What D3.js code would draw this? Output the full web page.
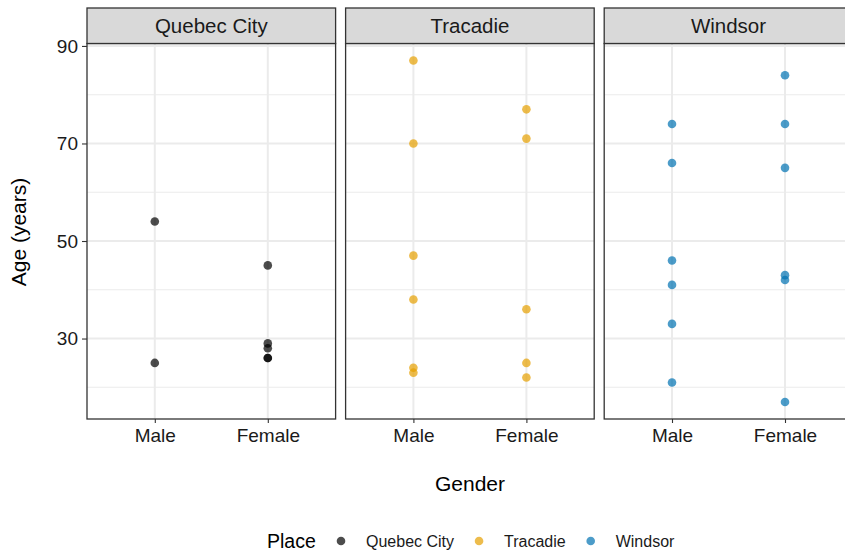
<!DOCTYPE html>
<html>
<head>
<meta charset="utf-8">
<script src="https://cdn.jsdelivr.net/npm/d3@7"></script>
<style>
  body { margin: 0; background: #fff; }
  svg { font-family: "Liberation Sans", Arial, Helvetica, sans-serif; }
  .grid line { stroke: #ebebeb; }
</style>
</head>
<body>
<script>
var width = 845,
    height = 550;

// data
var places = ['Quebec City', 'Tracadie', 'Windsor'];
var genders = ['Male', 'Female'];
var colors = ['#000000', '#E69F00', '#0072B2'];

var quebecMale = [54, 25];
var quebecFemale = [45, 29, 28, 26, 26];
var tracadieMale = [87, 70, 47, 38, 24, 23];
var tracadieFemale = [77, 71, 36, 25, 22];
var windsorMale = [74, 66, 46, 41, 33, 21];
var windsorFemale = [84, 74, 65, 43, 42, 17];

var yTicks = [30, 50, 70, 90];
var yMinor = [20, 40, 60, 80];

var ages = {
    'Quebec City': { Male: quebecMale, Female: quebecFemale },
    'Tracadie': { Male: tracadieMale, Female: tracadieFemale },
    'Windsor': { Male: windsorMale, Female: windsorFemale }
};

var rows = [];
places.forEach(function(p) {
    genders.forEach(function(g) {
        ages[p][g].forEach(function(a) { rows.push({ place: p, gender: g, age: a }); });
    });
});

var svg = d3.select('body').append('svg')
    .attr('width', width)
    .attr('height', height);

var panelW = 248.6, gap = 10, left = 87,
    stripTop = 8, panelTop = 43.5, panelBottom = 419;

var all = rows.map(d => d.age);
var ext = d3.extent(all), pad = (ext[1] - ext[0]) * 0.05;
var y = d3.scaleLinear()
    .domain([ext[0] - pad, ext[1] + pad])
    .range([panelBottom, panelTop]);

// discrete x with 0.6 expansion like ggplot
var x = d3.scalePoint()
    .domain(genders)
    .range([panelW * 0.6 / 2.2, panelW * 1.6 / 2.2]);

var color = d3.scaleOrdinal().domain(places).range(colors);

var panels = svg.selectAll('.panel')
    .data(places).enter()
    .append('g')
    .attr('class', 'panel')
    .attr('transform', (d, i) => 'translate(' + (left + i * (panelW + gap)) + ',0)');

var grid = panels.append('g').attr('class', 'grid');
grid.selectAll('.minor')
    .data(yMinor).enter()
    .append('line')
    .attr('x1', 0).attr('x2', panelW)
    .attr('y1', d => y(d)).attr('y2', d => y(d))
    .attr('stroke-width', 1.1);
grid.selectAll('.major')
    .data(yTicks).enter()
    .append('line')
    .attr('x1', 0).attr('x2', panelW)
    .attr('y1', d => y(d)).attr('y2', d => y(d))
    .attr('stroke-width', 2);
grid.selectAll('.vx')
    .data(genders).enter()
    .append('line')
    .attr('x1', d => x(d)).attr('x2', d => x(d))
    .attr('y1', panelTop).attr('y2', panelBottom)
    .attr('stroke-width', 2);

panels.selectAll('circle')
    .data(p => rows.filter(r => r.place === p)).enter()
    .append('circle')
    .attr('cx', d => x(d.gender))
    .attr('cy', d => y(d.age))
    .attr('r', 4.3)
    .attr('fill', d => color(d.place))
    .attr('fill-opacity', 0.7);

// panel border
panels.append('rect')
    .attr('x', 0).attr('y', panelTop)
    .attr('width', panelW).attr('height', panelBottom - panelTop)
    .attr('fill', 'none')
    .attr('stroke', '#333')
    .attr('stroke-width', 1.3);

// strips
panels.append('rect')
    .attr('x', 0).attr('y', stripTop)
    .attr('width', panelW).attr('height', panelTop - stripTop)
    .attr('fill', '#d9d9d9')
    .attr('stroke', '#333')
    .attr('stroke-width', 1.3);
panels.append('text')
    .attr('x', panelW / 2)
    .attr('y', (stripTop + panelTop) / 2)
    .attr('dy', '0.36em')
    .attr('text-anchor', 'middle')
    .attr('font-size', 20.5)
    .attr('fill', '#1a1a1a')
    .text(d => d);

// x axes
panels.append('g')
    .attr('transform', 'translate(0,' + panelBottom + ')')
    .call(d3.axisBottom(x).tickSize(4).tickPadding(6))
    .call(g => g.select('.domain').remove())
    .call(g => g.selectAll('line').attr('stroke', '#333').attr('stroke-width', 1.1))
    .call(g => g.selectAll('text')
        .attr('font-size', 19)
        .attr('fill', '#1a1a1a')
        .attr('font-family', null));

// y axis on first panel
svg.append('g')
    .attr('transform', 'translate(' + left + ',0)')
    .call(d3.axisLeft(y).tickValues(yTicks).tickSize(5).tickPadding(4))
    .call(g => g.select('.domain').remove())
    .call(g => g.selectAll('line').attr('stroke', '#333').attr('stroke-width', 1.1))
    .call(g => g.selectAll('text')
        .attr('font-size', 19)
        .attr('fill', '#1a1a1a')
        .attr('font-family', null));

// axis titles
svg.append('text')
    .attr('x', 470).attr('y', 491)
    .attr('text-anchor', 'middle')
    .attr('font-size', 21)
    .attr('fill', '#000')
    .text('Gender');

svg.append('text')
    .attr('transform', 'translate(25.5,232) rotate(-90)')
    .attr('text-anchor', 'middle')
    .attr('font-size', 21)
    .attr('fill', '#000')
    .text('Age (years)');

// legend
var legend = svg.append('g').attr('transform', 'translate(0,541)');
legend.append('text')
    .attr('x', 267).attr('y', 0)
    .attr('dy', '0.36em')
    .attr('font-size', 19.5)
    .text('Place');

var lx = 341;
places.forEach(function(p) {
    legend.append('circle')
        .attr('cx', lx).attr('cy', 0)
        .attr('r', 4.3)
        .attr('fill', color(p))
        .attr('fill-opacity', 0.7);
    var t = legend.append('text')
        .attr('x', lx + 25).attr('y', 0)
        .attr('dy', '0.36em')
        .attr('font-size', 16)
        .attr('fill', '#1a1a1a')
        .text(p);
    lx += 25 + t.node().getComputedTextLength() + 25;
});
</script>
</body>
</html>
